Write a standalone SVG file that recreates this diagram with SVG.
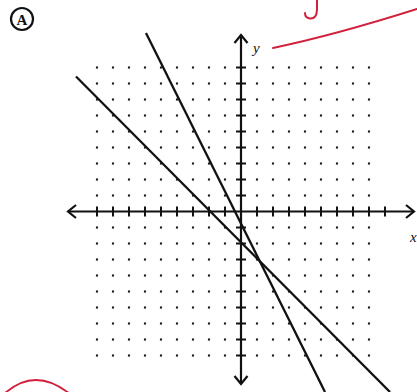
<svg xmlns="http://www.w3.org/2000/svg" width="417" height="392" viewBox="0 0 417 392">
<style>
.ax{stroke:#111;stroke-width:2.2;fill:none}
.tk{stroke:#111;stroke-width:2}
.ln{stroke:#111;stroke-width:2.3;fill:none}
.dots{stroke:#222;stroke-width:2.4;stroke-linecap:round;stroke-dasharray:0 16;fill:none}
.red{stroke:#d2203c;stroke-width:2;fill:none;stroke-linecap:round}
.lab{font-family:"Liberation Serif",serif;font-style:italic;font-size:15px;fill:#111}
</style>
<rect width="417" height="392" fill="#fff"/>
<g id="label-A">
<circle cx="22" cy="19" r="11" fill="none" stroke="#111" stroke-width="2.2"/>
<text x="22" y="24.5" text-anchor="middle" font-family="Liberation Serif,serif" font-weight="bold" font-size="15" fill="#111">A</text>
</g>
<g id="grid">
<path class="dots" d="M97,67.5H385M97,83.5H385M97,99.5H385M97,115.5H385M97,131.5H385M97,147.5H385M97,163.5H385M97,179.5H385M97,195.5H385M97,227.5H385M97,243.5H385M97,259.5H385M97,275.5H385M97,291.5H385M97,307.5H385M97,323.5H385M97,339.5H385M97,355.5H385"/>
</g>
<g id="axes">
<line class="ax" x1="68" y1="211.5" x2="414" y2="211.5"/>
<polyline class="ax" points="76,205 68,211.5 76,218"/>
<polyline class="ax" points="406,205 414,211.5 406,218"/>
<line class="ax" x1="241" y1="35" x2="241" y2="384"/>
<polyline class="ax" points="234.5,43 241,35 247.5,43"/>
<polyline class="ax" points="234.5,376 241,384 247.5,376"/>
<path class="tk" d="M97,206.5v10M113,206.5v10M129,206.5v10M145,206.5v10M161,206.5v10M177,206.5v10M193,206.5v10M209,206.5v10M225,206.5v10M257,206.5v10M273,206.5v10M289,206.5v10M305,206.5v10M321,206.5v10M337,206.5v10M353,206.5v10M369,206.5v10M385,206.5v10"/>
<path class="tk" d="M236,67.5h10M236,83.5h10M236,99.5h10M236,115.5h10M236,131.5h10M236,147.5h10M236,163.5h10M236,179.5h10M236,195.5h10M236,227.5h10M236,243.5h10M236,259.5h10M236,275.5h10M236,291.5h10M236,307.5h10M236,323.5h10M236,339.5h10M236,355.5h10"/>
<text class="lab" x="253" y="53">y</text>
<text class="lab" x="410" y="242">x</text>
</g>
<g id="connectors">
<line class="ln" x1="146" y1="33" x2="325" y2="392"/>
<line class="ln" x1="76" y1="76.5" x2="390" y2="392"/>
</g>
<g id="annotations">
<path class="red" d="M273,48 Q335,35 417,9"/>
<path class="red" d="M317,-2 L317,9 Q317,19 310,18.5 Q305,18 305,13"/>
<path class="red" d="M4,394 Q35,366 70,394"/>
</g>
</svg>
